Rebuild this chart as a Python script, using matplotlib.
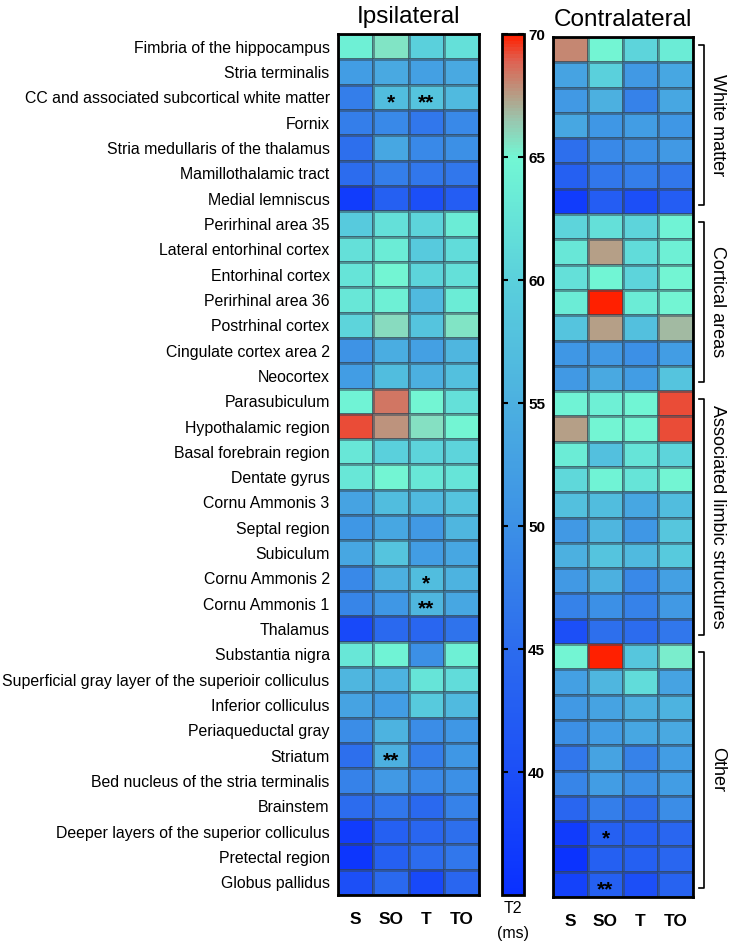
import numpy as np
import matplotlib
matplotlib.use('Agg')
import matplotlib.pyplot as plt
from matplotlib.colors import LinearSegmentedColormap, Normalize

plt.rcParams['font.family'] = ['Liberation Sans', 'DejaVu Sans']

regions = [
    'Fimbria of the hippocampus', 'Stria terminalis',
    'CC and associated subcortical white matter', 'Fornix',
    'Stria medullaris of the thalamus', 'Mamillothalamic tract',
    'Medial lemniscus', 'Perirhinal area 35', 'Lateral entorhinal cortex',
    'Entorhinal cortex', 'Perirhinal area 36', 'Postrhinal cortex',
    'Cingulate cortex area 2', 'Neocortex', 'Parasubiculum',
    'Hypothalamic region', 'Basal forebrain region', 'Dentate gyrus',
    'Cornu Ammonis 3', 'Septal region', 'Subiculum', 'Cornu Ammonis 2',
    'Cornu Ammonis 1', 'Thalamus', 'Substantia nigra',
    'Superficial gray layer of the superioir colliculus',
    'Inferior colliculus', 'Periaqueductal gray', 'Striatum',
    'Bed nucleus of the stria terminalis', 'Brainstem',
    'Deeper layers of the superior colliculus', 'Pretectal region',
    'Globus pallidus',
]
conditions = ['S', 'SO', 'T', 'TO']

# T2 (ms), columns S, SO, T, TO
ipsi = np.array([
    [64, 65.5, 60, 62],
    [52, 54, 52.5, 54],
    [47.5, 57, 58, 56.5],
    [47.5, 49, 46.5, 49],
    [45.5, 53.5, 49, 50],
    [45, 47.5, 46.5, 46.5],
    [37, 43, 40, 42.5],
    [59, 62, 60.5, 63.5],
    [62, 63.5, 59, 61.5],
    [62.5, 65, 60.5, 62],
    [63, 64, 56.5, 63.5],
    [60.5, 65.8, 58, 65.5],
    [50.5, 54.5, 52.5, 56],
    [52, 57, 55, 57.5],
    [64.5, 68.4, 65, 62],
    [69.2, 67.8, 65.7, 65],
    [63, 60, 60.5, 60.5],
    [63, 65, 63, 62.5],
    [53, 57, 56.5, 58],
    [51, 53.5, 51.5, 56],
    [53.5, 58, 52, 53.5],
    [49, 55, 57, 55.5],
    [48.5, 51, 56, 53.5],
    [39, 44.5, 44, 46],
    [63, 64.5, 50, 64],
    [56, 55.5, 62.5, 61.5],
    [53, 52, 59, 56.5],
    [49.5, 55.5, 49.5, 51],
    [45.5, 55, 47.5, 51],
    [48, 51.5, 49, 50],
    [45, 46.5, 44.5, 48],
    [37, 43, 44, 45.5],
    [36, 43, 45, 46.5],
    [40, 44.5, 39, 44],
])

contra = np.array([
    [68, 65, 60.5, 63.5],
    [53, 60, 51.5, 53.5],
    [51.5, 55, 48, 53.5],
    [53.5, 51, 52, 51],
    [45.5, 49, 50, 51.5],
    [43, 46.5, 47.5, 46.5],
    [37, 42.5, 40, 42.5],
    [60.5, 62, 60.5, 64.5],
    [63, 67.5, 61.5, 64],
    [62, 64.8, 60.5, 65],
    [63.5, 70, 63.5, 65],
    [58, 67.5, 57.5, 66.8],
    [51, 51.5, 50, 52],
    [51.5, 54, 52, 58],
    [64.5, 64, 64.8, 69.2],
    [67.5, 65, 65, 69.2],
    [63.5, 57.5, 62.5, 60.5],
    [61, 64.5, 62.5, 65],
    [57.5, 57, 53.5, 57],
    [51.5, 56, 51, 58.5],
    [55, 58, 56.5, 59],
    [51.5, 55, 49, 52.5],
    [48, 50, 48, 51.5],
    [40, 45.5, 45, 46.5],
    [65, 70, 58.5, 65.3],
    [52.5, 56, 61.5, 53],
    [51.5, 53, 55, 55.5],
    [50, 52, 53.5, 54],
    [46.5, 53, 48, 52],
    [48.5, 52, 50, 52],
    [44, 47.5, 45.5, 49.5],
    [37, 43, 43, 44],
    [35.5, 43, 43, 44],
    [38, 43, 40, 43.5],
])

# (row, column) -> significance marker
ipsi_stars = {(2, 1): '*', (2, 2): '**', (21, 2): '*', (22, 2): '**', (28, 1): '**'}
contra_stars = {(31, 1): '*', (33, 1): '**'}

groups = [('White matter', 0, 7), ('Cortical areas', 7, 14),
          ('Associated limbic structures', 14, 24), ('Other', 24, 34)]

vmin, vmax = 35, 70
stops = [(35, '#0a30ff'), (40, '#1c4ff7'), (45, '#2c6cee'), (50, '#3c90e6'),
         (55, '#4cb0e0'), (60, '#5ad0dc'), (65, '#72f7d4'), (66.5, '#98c8b0'),
         (67.5, '#b4a088'), (69, '#e06050'), (70, '#ff2000')]
cmap = LinearSegmentedColormap.from_list(
    't2', [((v - vmin) / (vmax - vmin), c) for v, c in stops])
norm = Normalize(vmin, vmax)

W, H = 731, 947
fig = plt.figure(figsize=(W / 100, H / 100), dpi=100)
ax1 = fig.add_axes([338 / W, 1 - 895 / H, 141 / W, 861 / H])
ax2 = fig.add_axes([553 / W, 1 - 897 / H, 140 / W, 860 / H])
cax = fig.add_axes([502 / W, 1 - 895 / H, 22 / W, 861 / H])

n = len(regions)
for ax, data, stars, title in [(ax1, ipsi, ipsi_stars, 'Ipsilateral'),
                               (ax2, contra, contra_stars, 'Contralateral')]:
    m = ax.pcolormesh(data, cmap=cmap, norm=norm,
                      edgecolors=(0.2, 0.27, 0.33, 0.5), linewidth=0.8)
    ax.set_xlim(0, 4)
    ax.set_ylim(n, 0)
    ax.set_xticks(np.arange(4) + 0.5)
    ax.set_xticklabels(conditions, fontsize=12.5, fontweight='bold')
    ax.tick_params(axis='x', length=0, pad=12)
    for s in ax.spines.values():
        s.set_linewidth(2)
    for (r, c), txt in stars.items():
        ax.text(c + 0.5, r + 0.72, txt, ha='center', va='center',
                fontsize=15, fontweight='bold')
    ax.set_title(title, fontsize=17.5, pad=8)

ax1.set_yticks(np.arange(n) + 0.5)
ax1.set_yticklabels(regions, fontsize=11.4)
ax1.tick_params(axis='y', length=0, pad=6)
ax2.set_yticks([])

# group brackets
for name, a, b in groups:
    y0, y1 = a + 0.3, b - 0.35
    ax2.plot([1.045, 1.075, 1.075, 1.045], [y0, y0, y1, y1], color='black',
             lw=1.2, transform=ax2.get_yaxis_transform(), clip_on=False)
    ax2.text(1.175, (y0 + y1) / 2, name, rotation=270, ha='center',
             va='center', fontsize=13, transform=ax2.get_yaxis_transform())

cb = fig.colorbar(m, cax=cax, ticks=[40, 45, 50, 55, 60, 65, 70])
cb.outline.set_linewidth(2)
cax.yaxis.set_ticks_position('both')
cax.tick_params(axis='y', direction='in', length=4, width=1.5, labelsize=11,
                pad=3, labelleft=False, labelright=True)
for lab in cax.get_yticklabels():
    lab.set_fontweight('bold')
fig.text(513 / W, 1 - 908 / H, 'T2', ha='center', va='center', fontsize=11.5)
fig.text(513 / W, 1 - 933 / H, '(ms)', ha='center', va='center', fontsize=11.5)

fig.savefig('out.png', dpi=100)
